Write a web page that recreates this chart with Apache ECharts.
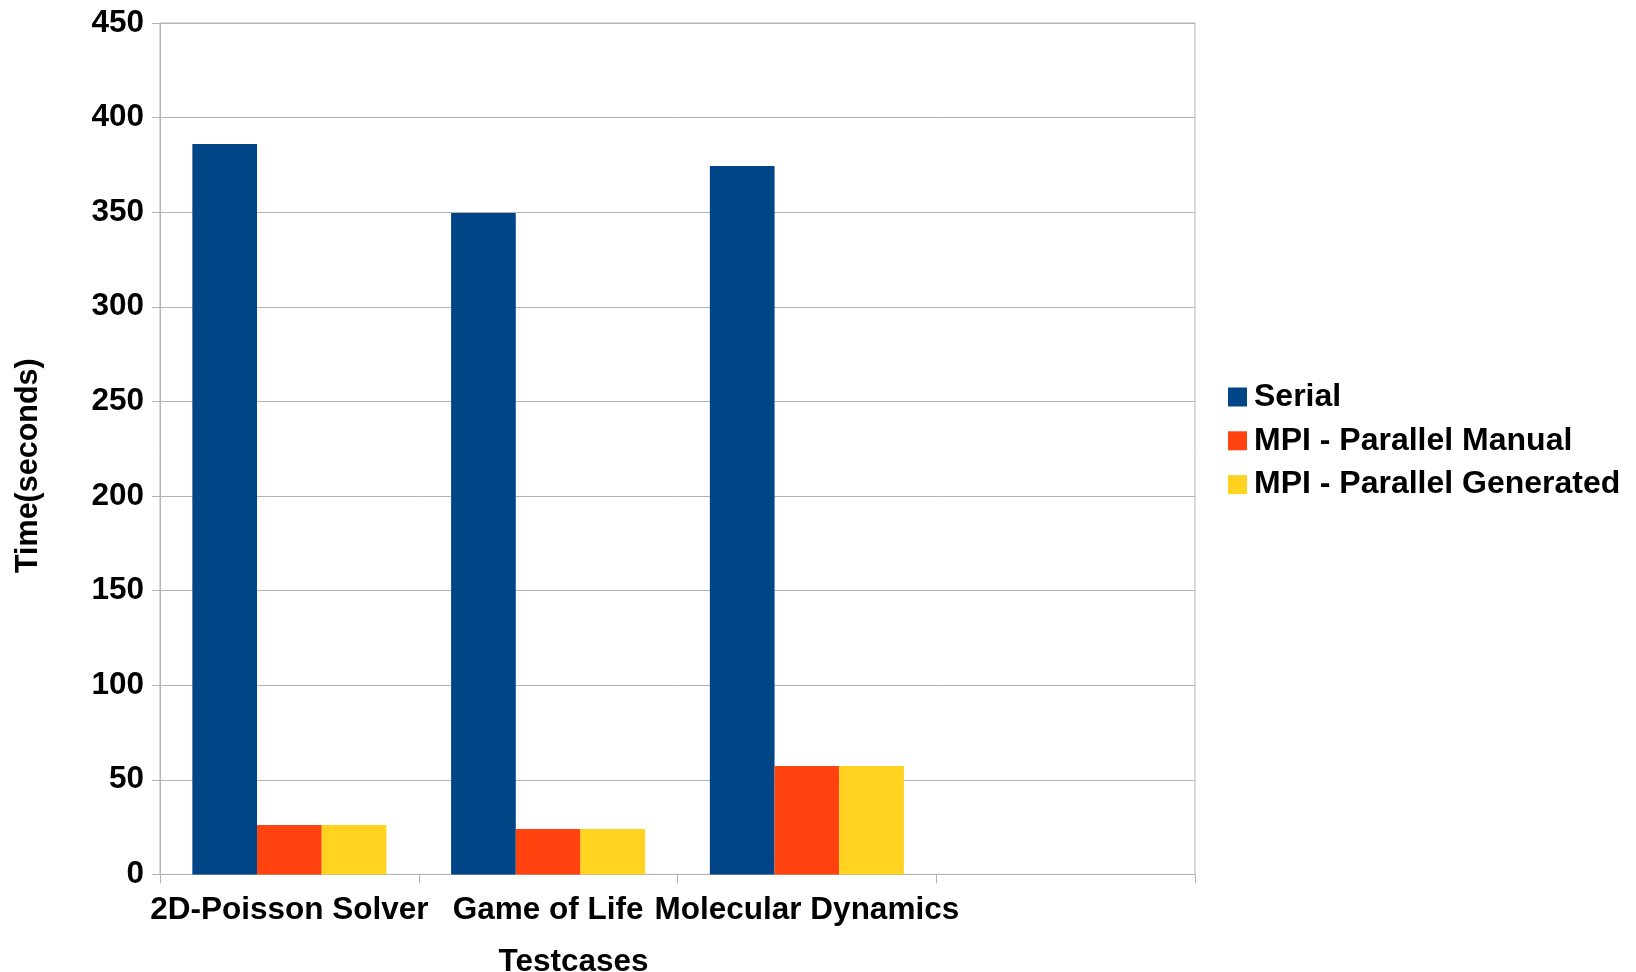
<!DOCTYPE html>
<html>
<head>
<meta charset="utf-8">
<title>Testcases timing</title>
<script src="https://cdn.jsdelivr.net/npm/echarts@6/dist/echarts.min.js"></script>
<style>
  html, body { margin: 0; padding: 0; background: #ffffff; }
  #chart { width: 1636px; height: 972px; }
</style>
</head>
<body>
<div id="chart"></div>
<script>
// Test cases on the x axis; the last slot is left empty
const categories = ['2D-Poisson Solver', 'Game of Life', 'Molecular Dynamics', ''];

// Run time in seconds for each variant
const serial = [386, 349.6, 374.4, null];
const mpiManual = [26.1, 24.0, 57.3, null];
const mpiGenerated = [26.1, 24.0, 57.3, null];

const seriesNames = ['Serial', 'MPI - Parallel Manual', 'MPI - Parallel Generated'];
const seriesColors = ['#004586', '#ff420e', '#ffd320'];

const FONT = 'Liberation Sans, Arial, sans-serif';
const FS = 31.5;
const GRID_COLOR = '#b3b3b3';

const chart = echarts.init(document.getElementById('chart'), null, { renderer: 'canvas' });

const textBase = { fontFamily: FONT, fontSize: FS, fontWeight: 'bold', color: '#000000' };

chart.setOption({
  backgroundColor: '#ffffff',
  animation: false,
  grid: {
    left: 160, right: 441, top: 23, bottom: 97.6,
    containLabel: false,
    outerBoundsMode: 'none',
    show: true, borderColor: GRID_COLOR, borderWidth: 1, backgroundColor: 'transparent'
  },
  legend: {
    orient: 'vertical',
    left: 1228,
    top: 381,
    padding: 0,
    itemWidth: 19,
    itemHeight: 19,
    itemGap: 11.8,
    icon: 'rect',
    selectedMode: false,
    textStyle: Object.assign({}, textBase, { fontSize: 32, lineHeight: 32, padding: [0, 0, 0, 2] }),
    data: seriesNames
  },
  xAxis: {
    type: 'category',
    data: categories,
    boundaryGap: true,
    name: 'Testcases',
    nameLocation: 'middle',
    nameGap: 72,
    nameTextStyle: Object.assign({}, textBase, { lineHeight: 32, padding: [0, 208, 0, 0] }),
    axisLine: { show: true, lineStyle: { color: GRID_COLOR, width: 1 } },
    axisTick: { show: true, length: 9, lineStyle: { color: GRID_COLOR } },
    axisLabel: Object.assign({}, textBase, { interval: 0, margin: 20, lineHeight: 32 }),
    splitLine: { show: false }
  },
  yAxis: {
    type: 'value',
    min: 0,
    max: 450,
    interval: 50,
    name: 'Time(seconds)',
    nameLocation: 'middle',
    nameGap: 115,
    nameTextStyle: Object.assign({}, textBase, { fontSize: 30.5, lineHeight: 32, padding: [0, 34, 0, 0] }),
    axisLine: { show: true, lineStyle: { color: GRID_COLOR, width: 1 } },
    axisTick: { show: true, length: 8, lineStyle: { color: GRID_COLOR } },
    axisLabel: Object.assign({}, textBase, { margin: 16 }),
    splitLine: { show: true, lineStyle: { color: GRID_COLOR, width: 1 } }
  },
  series: [serial, mpiManual, mpiGenerated].map((values, i) => ({
    name: seriesNames[i],
    type: 'bar',
    data: values,
    barGap: '0%',
    barCategoryGap: '25%',
    itemStyle: { color: seriesColors[i] }
  }))
});
</script>
</body>
</html>
